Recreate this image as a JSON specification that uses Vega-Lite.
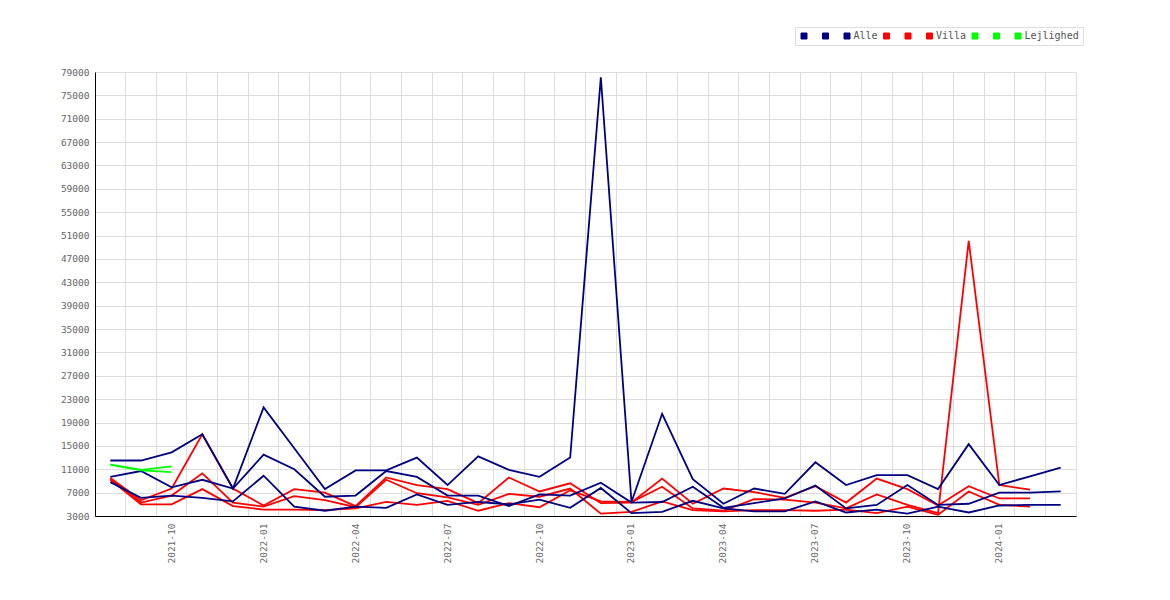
{
  "$schema": "https://vega.github.io/schema/vega-lite/v6.json",
  "width": 981,
  "height": 444,
  "autosize": {"type": "none"},
  "padding": {"left": 95, "top": 72, "right": 94, "bottom": 84},
  "background": "#ffffff",
  "config": {"view": {"stroke": "#dddddd"}, "font": "DejaVu Sans Mono"},
  "data": {"values": [
    {"m":"2021-08","s":"Alle_1","v":12500},{"m":"2021-09","s":"Alle_1","v":12500},{"m":"2021-10","s":"Alle_1","v":13900},{"m":"2021-11","s":"Alle_1","v":17000},{"m":"2021-12","s":"Alle_1","v":7700},{"m":"2022-01","s":"Alle_1","v":21600},{"m":"2022-02","s":"Alle_1","v":14600},{"m":"2022-03","s":"Alle_1","v":7600},{"m":"2022-04","s":"Alle_1","v":10800},{"m":"2022-05","s":"Alle_1","v":10800},{"m":"2022-06","s":"Alle_1","v":13000},{"m":"2022-07","s":"Alle_1","v":8300},{"m":"2022-08","s":"Alle_1","v":13200},{"m":"2022-09","s":"Alle_1","v":10900},{"m":"2022-10","s":"Alle_1","v":9700},{"m":"2022-11","s":"Alle_1","v":13000},{"m":"2022-12","s":"Alle_1","v":78100},{"m":"2023-01","s":"Alle_1","v":5400},{"m":"2023-02","s":"Alle_1","v":20500},{"m":"2023-03","s":"Alle_1","v":9300},{"m":"2023-04","s":"Alle_1","v":5100},{"m":"2023-05","s":"Alle_1","v":7700},{"m":"2023-06","s":"Alle_1","v":6800},{"m":"2023-07","s":"Alle_1","v":12200},{"m":"2023-08","s":"Alle_1","v":8300},{"m":"2023-09","s":"Alle_1","v":10000},{"m":"2023-10","s":"Alle_1","v":10000},{"m":"2023-11","s":"Alle_1","v":7600},{"m":"2023-12","s":"Alle_1","v":15300},{"m":"2024-01","s":"Alle_1","v":8300},{"m":"2024-02","s":"Alle_1","v":9800},{"m":"2024-03","s":"Alle_1","v":11300},
    {"m":"2021-08","s":"Alle_2","v":9700},{"m":"2021-09","s":"Alle_2","v":10700},{"m":"2021-10","s":"Alle_2","v":7900},{"m":"2021-11","s":"Alle_2","v":9200},{"m":"2021-12","s":"Alle_2","v":7700},{"m":"2022-01","s":"Alle_2","v":13500},{"m":"2022-02","s":"Alle_2","v":11000},{"m":"2022-03","s":"Alle_2","v":6300},{"m":"2022-04","s":"Alle_2","v":6500},{"m":"2022-05","s":"Alle_2","v":10700},{"m":"2022-06","s":"Alle_2","v":9700},{"m":"2022-07","s":"Alle_2","v":6500},{"m":"2022-08","s":"Alle_2","v":6500},{"m":"2022-09","s":"Alle_2","v":4700},{"m":"2022-10","s":"Alle_2","v":6700},{"m":"2022-11","s":"Alle_2","v":6500},{"m":"2022-12","s":"Alle_2","v":8700},{"m":"2023-01","s":"Alle_2","v":5300},{"m":"2023-02","s":"Alle_2","v":5400},{"m":"2023-03","s":"Alle_2","v":8000},{"m":"2023-04","s":"Alle_2","v":4400},{"m":"2023-05","s":"Alle_2","v":5200},{"m":"2023-06","s":"Alle_2","v":6000},{"m":"2023-07","s":"Alle_2","v":8200},{"m":"2023-08","s":"Alle_2","v":4300},{"m":"2023-09","s":"Alle_2","v":4900},{"m":"2023-10","s":"Alle_2","v":8300},{"m":"2023-11","s":"Alle_2","v":4900},{"m":"2023-12","s":"Alle_2","v":5100},{"m":"2024-01","s":"Alle_2","v":7000},{"m":"2024-02","s":"Alle_2","v":7000},{"m":"2024-03","s":"Alle_2","v":7200},
    {"m":"2021-08","s":"Alle","v":8800},{"m":"2021-09","s":"Alle","v":6100},{"m":"2021-10","s":"Alle","v":6500},{"m":"2021-11","s":"Alle","v":6100},{"m":"2021-12","s":"Alle","v":5500},{"m":"2022-01","s":"Alle","v":9900},{"m":"2022-02","s":"Alle","v":4600},{"m":"2022-03","s":"Alle","v":3900},{"m":"2022-04","s":"Alle","v":4600},{"m":"2022-05","s":"Alle","v":4400},{"m":"2022-06","s":"Alle","v":6700},{"m":"2022-07","s":"Alle","v":4900},{"m":"2022-08","s":"Alle","v":5400},{"m":"2022-09","s":"Alle","v":5000},{"m":"2022-10","s":"Alle","v":5800},{"m":"2022-11","s":"Alle","v":4400},{"m":"2022-12","s":"Alle","v":7800},{"m":"2023-01","s":"Alle","v":3500},{"m":"2023-02","s":"Alle","v":3700},{"m":"2023-03","s":"Alle","v":5600},{"m":"2023-04","s":"Alle","v":4300},{"m":"2023-05","s":"Alle","v":3800},{"m":"2023-06","s":"Alle","v":3800},{"m":"2023-07","s":"Alle","v":5500},{"m":"2023-08","s":"Alle","v":3600},{"m":"2023-09","s":"Alle","v":4100},{"m":"2023-10","s":"Alle","v":3400},{"m":"2023-11","s":"Alle","v":4600},{"m":"2023-12","s":"Alle","v":3600},{"m":"2024-01","s":"Alle","v":4800},{"m":"2024-02","s":"Alle","v":4900},{"m":"2024-03","s":"Alle","v":4900},
    {"m":"2021-08","s":"Villa_1","v":9500},{"m":"2021-09","s":"Villa_1","v":5700},{"m":"2021-10","s":"Villa_1","v":7700},{"m":"2021-11","s":"Villa_1","v":17000},{"m":"2021-12","s":"Villa_1","v":7700},{"m":"2022-01","s":"Villa_1","v":4800},{"m":"2022-02","s":"Villa_1","v":7600},{"m":"2022-03","s":"Villa_1","v":7000},{"m":"2022-04","s":"Villa_1","v":4700},{"m":"2022-05","s":"Villa_1","v":9600},{"m":"2022-06","s":"Villa_1","v":8300},{"m":"2022-07","s":"Villa_1","v":7600},{"m":"2022-08","s":"Villa_1","v":5200},{"m":"2022-09","s":"Villa_1","v":9600},{"m":"2022-10","s":"Villa_1","v":7200},{"m":"2022-11","s":"Villa_1","v":8600},{"m":"2022-12","s":"Villa_1","v":5200},{"m":"2023-01","s":"Villa_1","v":5300},{"m":"2023-02","s":"Villa_1","v":9400},{"m":"2023-03","s":"Villa_1","v":5100},{"m":"2023-04","s":"Villa_1","v":7700},{"m":"2023-05","s":"Villa_1","v":7100},{"m":"2023-06","s":"Villa_1","v":6100},{"m":"2023-07","s":"Villa_1","v":8100},{"m":"2023-08","s":"Villa_1","v":5300},{"m":"2023-09","s":"Villa_1","v":9400},{"m":"2023-10","s":"Villa_1","v":7600},{"m":"2023-11","s":"Villa_1","v":4800},{"m":"2023-12","s":"Villa_1","v":8100},{"m":"2024-01","s":"Villa_1","v":6000},{"m":"2024-02","s":"Villa_1","v":6000},
    {"m":"2021-08","s":"Villa_2","v":9400},{"m":"2021-09","s":"Villa_2","v":5300},{"m":"2021-10","s":"Villa_2","v":6500},{"m":"2021-11","s":"Villa_2","v":10300},{"m":"2021-12","s":"Villa_2","v":5300},{"m":"2022-01","s":"Villa_2","v":4600},{"m":"2022-02","s":"Villa_2","v":6400},{"m":"2022-03","s":"Villa_2","v":5700},{"m":"2022-04","s":"Villa_2","v":4500},{"m":"2022-05","s":"Villa_2","v":9200},{"m":"2022-06","s":"Villa_2","v":6900},{"m":"2022-07","s":"Villa_2","v":6200},{"m":"2022-08","s":"Villa_2","v":4900},{"m":"2022-09","s":"Villa_2","v":6800},{"m":"2022-10","s":"Villa_2","v":6300},{"m":"2022-11","s":"Villa_2","v":7700},{"m":"2022-12","s":"Villa_2","v":3400},{"m":"2023-01","s":"Villa_2","v":3700},{"m":"2023-02","s":"Villa_2","v":5500},{"m":"2023-03","s":"Villa_2","v":4000},{"m":"2023-04","s":"Villa_2","v":3800},{"m":"2023-05","s":"Villa_2","v":4000},{"m":"2023-06","s":"Villa_2","v":4000},{"m":"2023-07","s":"Villa_2","v":3900},{"m":"2023-08","s":"Villa_2","v":4100},{"m":"2023-09","s":"Villa_2","v":3500},{"m":"2023-10","s":"Villa_2","v":4600},{"m":"2023-11","s":"Villa_2","v":3200},{"m":"2023-12","s":"Villa_2","v":7200},{"m":"2024-01","s":"Villa_2","v":4900},{"m":"2024-02","s":"Villa_2","v":4600},
    {"m":"2021-08","s":"Villa","v":9200},{"m":"2021-09","s":"Villa","v":5000},{"m":"2021-10","s":"Villa","v":5000},{"m":"2021-11","s":"Villa","v":7600},{"m":"2021-12","s":"Villa","v":4700},{"m":"2022-01","s":"Villa","v":4100},{"m":"2022-02","s":"Villa","v":4100},{"m":"2022-03","s":"Villa","v":4000},{"m":"2022-04","s":"Villa","v":4300},{"m":"2022-05","s":"Villa","v":5400},{"m":"2022-06","s":"Villa","v":4900},{"m":"2022-07","s":"Villa","v":5600},{"m":"2022-08","s":"Villa","v":3900},{"m":"2022-09","s":"Villa","v":5200},{"m":"2022-10","s":"Villa","v":4500},{"m":"2022-11","s":"Villa","v":7400},{"m":"2022-12","s":"Villa","v":5500},{"m":"2023-01","s":"Villa","v":5400},{"m":"2023-02","s":"Villa","v":8000},{"m":"2023-03","s":"Villa","v":4300},{"m":"2023-04","s":"Villa","v":3900},{"m":"2023-05","s":"Villa","v":5900},{"m":"2023-06","s":"Villa","v":5800},{"m":"2023-07","s":"Villa","v":5300},{"m":"2023-08","s":"Villa","v":4300},{"m":"2023-09","s":"Villa","v":6700},{"m":"2023-10","s":"Villa","v":4900},{"m":"2023-11","s":"Villa","v":3500},{"m":"2023-12","s":"Villa","v":50100},{"m":"2024-01","s":"Villa","v":8300},{"m":"2024-02","s":"Villa","v":7500},
    {"m":"2021-08","s":"Lejlighed_1","v":11800},{"m":"2021-09","s":"Lejlighed_1","v":10900},{"m":"2021-10","s":"Lejlighed_1","v":11500},
    {"m":"2021-08","s":"Lejlighed_2","v":11800},{"m":"2021-09","s":"Lejlighed_2","v":10800},{"m":"2021-10","s":"Lejlighed_2","v":10500}
  ]},
  "encoding": {
    "x": {
      "field": "m", "type": "ordinal", "bandPosition": 0.5,
      "scale": {"type": "band", "paddingInner": 0, "paddingOuter": 0},
      "axis": {
        "title": null, "bandPosition": 0,
        "labelExpr": "indexof(['01','04','07','10'], substring(datum.value,5,7)) >= 0 ? datum.value : ''",
        "labelAngle": 270, "labelAlign": "right", "labelBaseline": "middle",
        "labelOverlap": false, "labelFlush": false,
        "ticks": false, "tickSize": 0, "labelPadding": 7,
        "grid": true, "gridColor": "#dddddd", "gridWidth": 1,
        "domainColor": "#000000", "domainWidth": 1,
        "labelFont": "DejaVu Sans Mono", "labelFontSize": 9.5, "labelColor": "#666666"
      }
    },
    "y": {
      "field": "v", "type": "quantitative",
      "scale": {"domain": [3000, 79000], "nice": false, "zero": false},
      "axis": {
        "title": null, "format": "d",
        "values": [3000,7000,11000,15000,19000,23000,27000,31000,35000,39000,43000,47000,51000,55000,59000,63000,67000,71000,75000,79000],
        "ticks": false, "tickSize": 0, "labelPadding": 6,
        "grid": true, "gridColor": "#dddddd", "gridWidth": 1,
        "domainColor": "#000000", "domainWidth": 1,
        "labelFont": "DejaVu Sans Mono", "labelFontSize": 9.5, "labelColor": "#666666"
      }
    },
    "color": {
      "field": "s", "type": "nominal",
      "scale": {
        "domain": ["Alle_1","Alle_2","Alle","Villa_1","Villa_2","Villa","Lejlighed_1","Lejlighed_2","Lejlighed"],
        "range": ["#000080","#000080","#000080","#ff0000","#ff0000","#ff0000","#00ff00","#00ff00","#00ff00"]
      },
      "legend": {
        "title": null, "orient": "none", "direction": "horizontal",
        "legendX": 700, "legendY": -45,
        "labelExpr": "indexof(datum.label,'_') >= 0 ? 'x' : datum.label",
        "symbolType": "square", "symbolSize": 36,
        "columnPadding": 3.5, "labelOffset": 1.5,
        "labelFont": "DejaVu Sans Mono", "labelFontSize": 10, "labelColor": "#555555",
        "fillColor": "#ffffff", "strokeColor": "#dddddd", "padding": 4,
        "encode": {
          "symbols": {"update": {
            "fill": {"scale": "color", "field": "value"},
            "stroke": {"value": "#555555"},
            "strokeWidth": {"value": 1},
            "opacity": {"value": 1}
          }},
          "labels": {"update": {
            "opacity": {"signal": "indexof(datum.value,'_') >= 0 ? 0 : 1"}
          }}
        }
      }
    }
  },
  "layer": [
    {"transform": [{"filter": "indexof(datum.s,'Villa') == 0"}], "mark": {"type": "line", "strokeWidth": 1.8}},
    {"transform": [{"filter": "indexof(datum.s,'Alle') == 0"}], "mark": {"type": "line", "strokeWidth": 1.8}},
    {"transform": [{"filter": "indexof(datum.s,'Lejlighed') == 0"}], "mark": {"type": "line", "strokeWidth": 1.8}}
  ]
}
